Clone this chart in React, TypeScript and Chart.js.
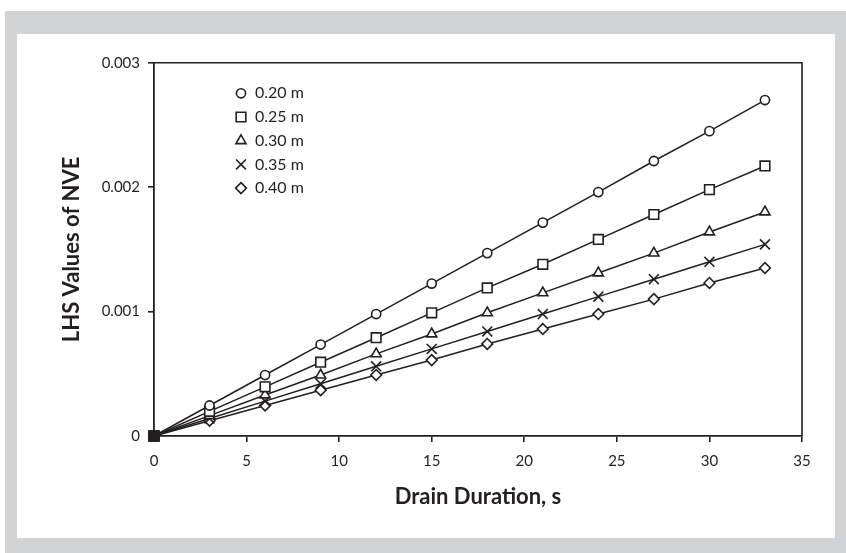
import React, { useEffect, useRef } from 'react';
import { Chart, registerables } from 'chart.js';
import { drawPoint } from 'chart.js/helpers';

Chart.register(...registerables);

const drainTime = [0, 3, 6, 9, 12, 15, 18, 21, 24, 27, 30, 33];
const nve020 = [0, 0.000245, 0.00049, 0.000735, 0.00098, 0.001225, 0.00147, 0.001715, 0.00196, 0.00221, 0.00245, 0.0027];
const nve025 = [0, 0.000198, 0.000395, 0.000593, 0.00079, 0.00099, 0.00119, 0.00138, 0.00158, 0.00178, 0.00198, 0.00217];
const nve030 = [0, 0.000164, 0.00033, 0.00049, 0.00066, 0.00082, 0.00099, 0.00115, 0.00131, 0.00147, 0.00164, 0.0018];
const nve035 = [0, 0.00014, 0.00028, 0.00042, 0.00056, 0.0007, 0.00084, 0.00098, 0.00112, 0.00126, 0.0014, 0.00154];
const nve040 = [0, 0.000123, 0.000245, 0.000368, 0.00049, 0.00061, 0.00074, 0.00086, 0.00098, 0.0011, 0.00123, 0.00135];
const seriesLabels = ['0.20 m', '0.25 m', '0.30 m', '0.35 m', '0.40 m'];
const seriesValues = [nve020, nve025, nve030, nve035, nve040];
const pointStyles = ['circle', 'rect', 'triangle', 'crossRot', 'rectRot'];
const pointSizes = [4.6, 6.8, 5.8, 7, 5.4];
const xTitle = 'Drain Duration, s';
const yTitle = 'LHS Values of NVE';

const INK = '#231f20';
const FONT = 'Lato, "Open Sans", sans-serif';

const framePlugin = {
  id: 'frame',
  beforeDraw(chart: any) {
    const { ctx, width, height } = chart;
    ctx.save();
    ctx.fillStyle = '#ffffff';
    ctx.fillRect(0, 0, width, height);
    ctx.fillStyle = '#d1d3d4';
    ctx.fillRect(5, 11, width - 5, height - 11);
    ctx.fillStyle = '#ffffff';
    ctx.fillRect(17, 34, 818, 504);
    ctx.restore();
  },
  beforeDatasetsDraw(chart: any) {
    const { ctx, chartArea } = chart;
    ctx.save();
    ctx.strokeStyle = INK;
    ctx.lineWidth = 1.6;
    ctx.beginPath();
    ctx.moveTo(chartArea.left, chartArea.top);
    ctx.lineTo(chartArea.right, chartArea.top);
    ctx.lineTo(chartArea.right, chartArea.bottom);
    ctx.stroke();
    ctx.restore();
  },
};

const legendPlugin = {
  id: 'innerLegend',
  afterDraw(chart: any) {
    const { ctx, chartArea } = chart;
    ctx.save();
    seriesLabels.forEach((label, i) => {
      const y = chartArea.top + 30.6 + i * 23.7;
      const mx = chartArea.left + 87;
      ctx.fillStyle = '#ffffff';
      ctx.strokeStyle = INK;
      ctx.lineWidth = 1.6;
      drawPoint(ctx, { pointStyle: pointStyles[i], radius: pointSizes[i], rotation: 0, borderWidth: 1.6 } as any, mx, y);
      ctx.fillStyle = INK;
      ctx.font = '16px ' + FONT;
      ctx.textAlign = 'left';
      ctx.textBaseline = 'middle';
      ctx.fillText(label, mx + 14, y);
    });
    ctx.restore();
  },
};

export default function App() {
  const ref = useRef<HTMLCanvasElement | null>(null);
  useEffect(() => {
    document.body.style.margin = '0';
    const canvas = ref.current;
    if (!canvas) return;
    const datasets = seriesValues.map((vals, i) => ({
      label: seriesLabels[i],
      data: drainTime.map((t, j) => ({ x: t, y: vals[j] })),
      showLine: true,
      clip: false,
      borderColor: INK,
      borderWidth: 1.5,
      pointStyle: drainTime.map((_, j) => (j === 0 ? 'rect' : pointStyles[i])),
      pointRadius: drainTime.map((_, j) => (j === 0 ? 6.8 : pointSizes[i])),
      pointBorderWidth: 1.6,
      pointBorderColor: INK,
      pointBackgroundColor: drainTime.map((_, j) => (j === 0 ? INK : '#ffffff')),
    }));
    const chart = new Chart(canvas, {
      type: 'scatter',
      data: { datasets },
      plugins: [framePlugin, legendPlugin],
      options: {
        animation: false,
        responsive: false,
        layout: { padding: { left: 0, right: 44, top: 62.7, bottom: 0 } },
        plugins: { legend: { display: false }, tooltip: { enabled: false } },
        scales: {
          x: {
            type: 'linear',
            min: 0,
            max: 35,
            afterFit(scale: any) { scale.height = 117; },
            ticks: { stepSize: 5, color: INK, font: { family: FONT, size: 15 }, padding: 10, maxRotation: 0 },
            grid: { drawOnChartArea: false, drawTicks: true, tickLength: 6, color: INK, lineWidth: 1.6 },
            border: { display: true, color: INK, width: 1.8 },
            title: { display: true, text: xTitle, color: INK, font: { family: FONT, size: 22, weight: 'bold' }, padding: { top: 0, bottom: 43 } },
          },
          y: {
            type: 'linear',
            min: 0,
            max: 0.003,
            afterFit(scale: any) { scale.width = 154; },
            ticks: {
              stepSize: 0.001,
              color: INK,
              font: { family: FONT, size: 15 },
              padding: 8,
              callback: (v: any) => (Number(v) === 0 ? '0' : Number(v).toFixed(3)),
            },
            grid: { drawOnChartArea: false, drawTicks: true, tickLength: 6, color: INK, lineWidth: 1.6 },
            border: { display: true, color: INK, width: 1.8 },
            title: { display: true, text: yTitle, color: INK, font: { family: FONT, size: 22, weight: 'bold' }, padding: { top: 59, bottom: 0 } },
          },
        },
      } as any,
    });
    return () => chart.destroy();
  }, []);
  return (
    <div style={{ width: 846, height: 553 }}>
      <canvas ref={ref} width={846} height={553} style={{ display: 'block' }} />
    </div>
  );
}
